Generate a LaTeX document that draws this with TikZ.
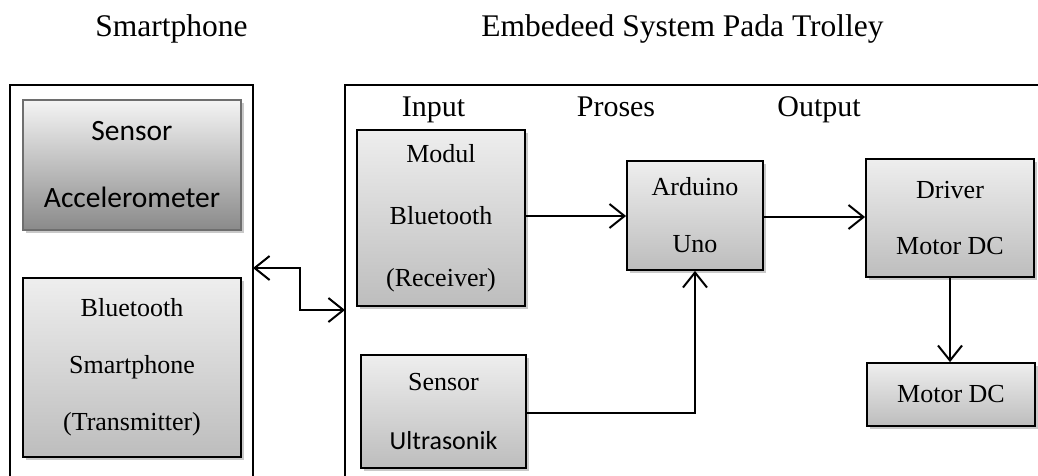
\documentclass[tikz,border=0pt]{standalone}
\usepackage{fontspec}
\setmainfont{Liberation Serif}
\setsansfont{Carlito}
\usetikzlibrary{arrows.meta,shadows}
\definecolor{gtop}{HTML}{EEEEEE}
\definecolor{gbot}{HTML}{BDBDBD}
\definecolor{atop}{HTML}{F4F4F4}
\definecolor{abot}{HTML}{8A8A8A}
\definecolor{aedge}{HTML}{6E6E6E}
\tikzset{
  barb/.tip={Straight Barb[length=15pt,width=24pt,line width=2pt]},
  blk/.style={draw=black, line width=1.8pt, top color=gtop, bottom color=gbot,
    align=center, inner sep=0pt, font=\fontsize{26}{59}\selectfont,
    drop shadow={shadow xshift=2.5pt, shadow yshift=-2.5pt, fill=black!35, opacity=0.6}},
  accblk/.style={blk, draw=aedge, top color=atop, bottom color=abot, font=\sffamily\fontsize{29.5}{67}\selectfont},
  cont/.style={draw=black, line width=1.8pt},
  conn/.style={draw=black, line width=2pt, -barb},
  conn2/.style={draw=black, line width=2pt, barb-barb},
  title/.style={font=\fontsize{31.5}{36}\selectfont, anchor=base, inner sep=0pt},
  lbl/.style={font=\fontsize{30}{36}\selectfont, anchor=base, inner sep=0pt}
}
\begin{document}
\begin{tikzpicture}[x=1pt,y=-1pt]
\useasboundingbox[fill=white] (0,0) rectangle (1038,475);
% titles
\node[title] (t1) at (171.5,36) {Smartphone};
\node[title] (t2) at (682.5,36) {Embedeed System Pada Trolley};
% containers
\draw[cont] (10,480) -- (10,85) -- (253,85) -- (253,480);
\draw[cont] (345,480) -- (345,85) -- (1045,85);
\coordinate (L) at (253,268);
\coordinate (R) at (345,310);
% section labels
\node[lbl] (in) at (433.5,116) {Input};
\node[lbl] (pr) at (616,116) {Proses};
\node[lbl] (out) at (819,116) {Output};
% blocks
\node[accblk, minimum width=218pt, minimum height=130pt] (acc) at (132,165) {Sensor\\Accelerometer};
\node[blk, minimum width=218pt, minimum height=179pt, font=\fontsize{26}{57}\selectfont] (bts) at (132,367.5) {Bluetooth\\Smartphone\\(Transmitter)};
\node[blk, minimum width=168pt, minimum height=176pt, font=\fontsize{26}{62}\selectfont] (mod) at (441,218) {Modul\\Bluetooth\\(Receiver)};
\node[blk, minimum width=165pt, minimum height=113pt] (ult) at (443.5,411.5) {Sensor\\{\sffamily Ultrasonik}};
\node[blk, minimum width=136pt, minimum height=109pt, font=\fontsize{26}{57}\selectfont] (ard) at (695,215.5) {Arduino\\Uno};
\node[blk, minimum width=168pt, minimum height=118pt, font=\fontsize{26}{56}\selectfont] (drv) at (950,218) {Driver\\Motor DC};
\node[blk, minimum width=168pt, minimum height=63pt] (mdc) at (951,394.5) {Motor DC};
% connectors
\draw[conn2] (L) -- (300,268) |- (R);
\draw[conn] (mod.east |- 0,216) -- (ard.west |- 0,216);
\draw[conn] (ard.east |- 0,217) -- (drv.west |- 0,217);
\draw[conn] (drv.south -| 950,0) -- (mdc.north -| 950,0);
\draw[conn] (ult.east |- 0,413) -| (ard.south);
\end{tikzpicture}
\end{document}
